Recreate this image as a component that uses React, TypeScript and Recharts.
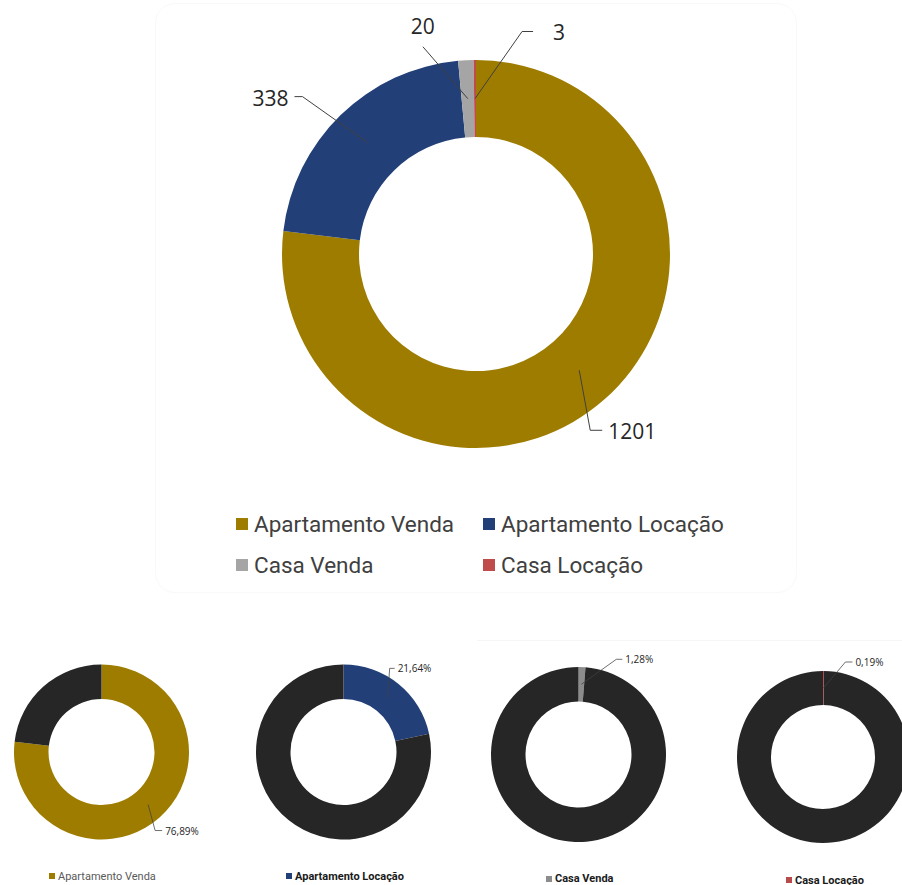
// Imóveis por tipo de negócio: big donut with counts + four share donuts
import React from 'react';
import { PieChart, Pie, Cell, Legend } from 'recharts';

// ── Data ──────────────────────────────────────────────────────────────────────
const CATEGORIES = ['Apartamento Venda', 'Apartamento Locação', 'Casa Venda', 'Casa Locação'];
const COUNTS = [1201, 338, 20, 3];
const SHARES = [76.89, 21.64, 1.28, 0.19];
const SHARE_LABELS = ['76,89%', '21,64%', '1,28%', '0,19%'];

// ── Colour tokens ─────────────────────────────────────────────────────────────
const COLORS = ['#9E7C00', '#223F78', '#A5A5A5', '#BF4B4B'];
const SMALL_COLORS = ['#9E7C00', '#223F78', '#8C8C8C', '#B84A4A'];
const REST_COLOR = '#262626';
const LINE_COLOR = '#404040';

// ── Label leader layouts (offsets from the slice's mid-ring point) ─────────────
type LabelLayout = { elbow: number[]; end: number[]; text: number[]; anchor: 'start' | 'middle' | 'end' };

const BIG_LABELS: LabelLayout[] = [
  { elbow: [11, 60], end: [23, 60], text: [29, 61], anchor: 'start' },
  { elbow: [-65, -46], end: [-73, -46], text: [-79, -45], anchor: 'end' },
  { elbow: [-45, -52], end: [-45, -52], text: [-45, -73], anchor: 'middle' },
  { elbow: [47, -67], end: [58, -67], text: [78, -67], anchor: 'start' },
];

const SMALL_LABELS: LabelLayout[] = [
  { elbow: [7, 26], end: [14, 26], text: [17, 26], anchor: 'start' },
  { elbow: [2, -29], end: [7, -29], text: [10, -29], anchor: 'start' },
  { elbow: [35, -25], end: [41, -25], text: [44, -25], anchor: 'start' },
  { elbow: [22, -26], end: [29, -26], text: [32, -26], anchor: 'start' },
];

const RAD = Math.PI / 180;

function midRing(p: any) {
  const r = (p.innerRadius + p.outerRadius) / 2;
  return [p.cx + r * Math.cos(-p.midAngle * RAD), p.cy + r * Math.sin(-p.midAngle * RAD)];
}

function leader(p: any, lay: LabelLayout, text: string, fontSize: number, width: number) {
  const [x, y] = midRing(p);
  const pts = [[x, y], [x + lay.elbow[0], y + lay.elbow[1]], [x + lay.end[0], y + lay.end[1]]];
  return (
    <g>
      <polyline points={pts.map((q) => q.join(',')).join(' ')} fill="none" stroke={LINE_COLOR} strokeWidth={width} />
      <text
        x={x + lay.text[0]}
        y={y + lay.text[1]}
        textAnchor={lay.anchor}
        dominantBaseline="central"
        fontFamily="'Open Sans', sans-serif"
        fontSize={fontSize}
        fill="#262626"
      >
        {text}
      </text>
    </g>
  );
}

// ── Legends ───────────────────────────────────────────────────────────────────
function BigLegend() {
  return (
    <div style={{ display: 'grid', gridTemplateColumns: '247px 270px' }}>
      {CATEGORIES.map((c, i) => (
        <div key={c} style={{ display: 'flex', alignItems: 'center', height: 40.5 }}>
          <span style={{ width: 12, height: 12, background: COLORS[i], marginRight: 6, flex: 'none' }} />
          <span style={{ fontFamily: 'Roboto, sans-serif', fontSize: 22.5, color: '#404040', whiteSpace: 'nowrap' }}>{c}</span>
        </div>
      ))}
    </div>
  );
}

function SmallLegend({ i }: { i: number }) {
  return (
    <div style={{ display: 'flex', alignItems: 'center', height: 14 }}>
      <span style={{ width: 6, height: 6, background: SMALL_COLORS[i], marginRight: 3, flex: 'none' }} />
      <span
        style={{
          fontFamily: 'Roboto, sans-serif',
          fontSize: 11,
          fontWeight: i === 0 ? 400 : 700,
          color: i === 0 ? '#595959' : '#1a1a1a',
          whiteSpace: 'nowrap',
        }}
      >
        {CATEGORIES[i]}
      </span>
    </div>
  );
}

// ── Small share donut ─────────────────────────────────────────────────────────
const SMALL_BOXES = [
  { left: 0, width: 230, cx: 101.5, cy: 122, r: 87.5, ir: 53, legend: [49, 239] },
  { left: 230, width: 235, cx: 113.5, cy: 122, r: 87.5, ir: 53, legend: [56, 239] },
  { left: 465, width: 245, cx: 113.5, cy: 124.5, r: 87.5, ir: 53, legend: [81, 241.5] },
  { left: 712, width: 190, cx: 111, cy: 127, r: 86, ir: 52, legend: [74, 243] },
];

function ShareDonut({ i }: { i: number }) {
  const box = SMALL_BOXES[i];
  const data = [
    { name: CATEGORIES[i], value: SHARES[i] },
    { name: 'Outros', value: 100 - SHARES[i] },
  ];
  return (
    <div style={{ position: 'absolute', left: box.left, top: 630 }}>
      <PieChart width={box.width} height={255} margin={{ top: 0, right: 0, bottom: 0, left: 0 }}>
        <Pie
          data={data}
          dataKey="value"
          nameKey="name"
          cx={box.cx}
          cy={box.cy}
          innerRadius={box.ir}
          outerRadius={box.r}
          startAngle={90}
          endAngle={-270}
          stroke="none"
          labelLine={false}
          label={(p: any) => (p.index === 0 ? leader(p, SMALL_LABELS[i], SHARE_LABELS[i], 10, 0.75) : <g />)}
          isAnimationActive={false}
        >
          <Cell fill={SMALL_COLORS[i]} />
          <Cell fill={REST_COLOR} />
        </Pie>
        <Legend
          content={() => <SmallLegend i={i} />}
          wrapperStyle={{ left: box.legend[0], top: box.legend[1], width: 'auto', bottom: 'auto' }}
        />
      </PieChart>
    </div>
  );
}

// ── App ───────────────────────────────────────────────────────────────────────
export default function App() {
  const data = CATEGORIES.map((name, i) => ({ name, value: COUNTS[i] }));
  return (
    <div style={{ position: 'absolute', left: 0, top: 0, width: 902, height: 885, overflow: 'hidden', background: '#fff' }}>
      <div
        style={{
          position: 'absolute',
          left: 155,
          top: 3,
          width: 640,
          height: 588,
          border: '1px solid #f9f9f9',
          borderRadius: 20,
        }}
      />
      <div style={{ position: 'absolute', left: 477, top: 640, width: 425, height: 1, background: '#f6f6f6' }} />
      <div style={{ position: 'absolute', left: 0, top: 0 }}>
        <PieChart width={902} height={600} margin={{ top: 0, right: 0, bottom: 0, left: 0 }}>
          <Pie
            data={data}
            dataKey="value"
            nameKey="name"
            cx={476}
            cy={254}
            innerRadius={117}
            outerRadius={194}
            startAngle={90}
            endAngle={-270}
            stroke="none"
            labelLine={false}
            label={(p: any) => leader(p, BIG_LABELS[p.index], String(COUNTS[p.index]), 21, 1)}
            isAnimationActive={false}
          >
            {data.map((d, i) => (
              <Cell key={d.name} fill={COLORS[i]} />
            ))}
          </Pie>
          <Legend
            content={() => <BigLegend />}
            wrapperStyle={{ left: 236, top: 503.75, width: 520, bottom: 'auto' }}
          />
        </PieChart>
      </div>
      {SMALL_BOXES.map((_, i) => (
        <ShareDonut key={i} i={i} />
      ))}
    </div>
  );
}
